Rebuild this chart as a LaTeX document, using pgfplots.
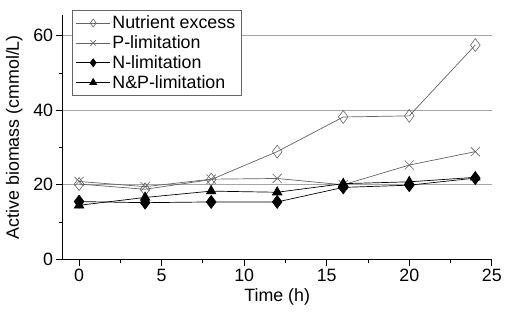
\documentclass[border=0pt]{standalone}
\usepackage{pgfplots}
\pgfplotsset{compat=1.18}
\usepackage{fontspec}
\setmainfont{Liberation Sans}
\definecolor{lg}{RGB}{100,100,100}
\begin{document}
\begin{tikzpicture}
\begin{axis}[
  scale only axis,
  width=432bp, height=246bp,
  xmin=-1, xmax=25, ymin=0, ymax=65.6,
  axis x line*=bottom, axis y line*=left,
  axis line style={black, line width=1pt},
  xtick={0,5,...,25}, ytick={0,20,40,60},
  minor xtick={2.5,7.5,...,22.5}, minor ytick={10,30,50},
  tick align=outside, major tick length=7bp, minor tick length=4bp,
  tick style={black, line width=0.9pt},
  ymajorgrids, grid style={gray!70, line width=0.6pt},
  /pgf/number format/assume math mode=true,
  ticklabel style={font=\fontsize{18}{19}\selectfont},
  xticklabel style={yshift=1bp},
  yticklabel style={xshift=1bp},
  label style={font=\fontsize{18}{19}\selectfont},
  xlabel={Time (h)}, ylabel={Active biomass (cmmol/L)},
  xlabel style={yshift=0bp},
  ylabel style={yshift=4bp},
  legend style={at={(0.021,1.02)}, anchor=north west, draw=gray!80!black, line width=0.8pt,
    font=\fontsize{18}{19}\selectfont, row sep=1.5bp, inner xsep=4bp, inner ysep=3.5bp},
  legend cell align=left,
  legend image code/.code={\draw[#1] (0bp,0bp) -- (34bp,0bp); \draw[#1, only marks, mark size=4bp] plot coordinates {(17bp,0bp)};},
]
\addplot[lg, line width=0.7pt, mark=diamond, mark size=6.5bp, mark options={fill=white, line width=0.6pt}] coordinates {
(0,20.2) (4,18.8) (8,21.4) (12,28.9) (16,38.2) (20,38.5) (24,57.5)};
\addlegendentry{Nutrient excess}
\addplot[lg, line width=0.7pt, mark=x, mark size=6.5bp, mark options={line width=0.6pt}] coordinates {
(0,20.9) (4,19.5) (8,21.5) (12,21.7) (16,20.0) (20,25.3) (24,28.9)};
\addlegendentry{P-limitation}
\addplot[black, line width=0.7pt, mark=diamond*, mark size=6.5bp] coordinates {
(0,15.5) (4,15.2) (8,15.4) (12,15.4) (16,19.3) (20,19.9) (24,21.8)};
\addlegendentry{N-limitation}
\addplot[black, line width=0.7pt, mark=triangle*, mark size=5.5bp] coordinates {
(0,14.5) (4,16.6) (8,18.3) (12,18.0) (16,20.3) (20,20.8) (24,22.0)};
\addlegendentry{N\&P-limitation}
\end{axis}
\path (current axis.south west) ++(-63bp,-60bp) coordinate (a);
\path (current axis.north east) ++(10bp,15bp) coordinate (b);
\path (a) rectangle (b);
\end{tikzpicture}
\end{document}
